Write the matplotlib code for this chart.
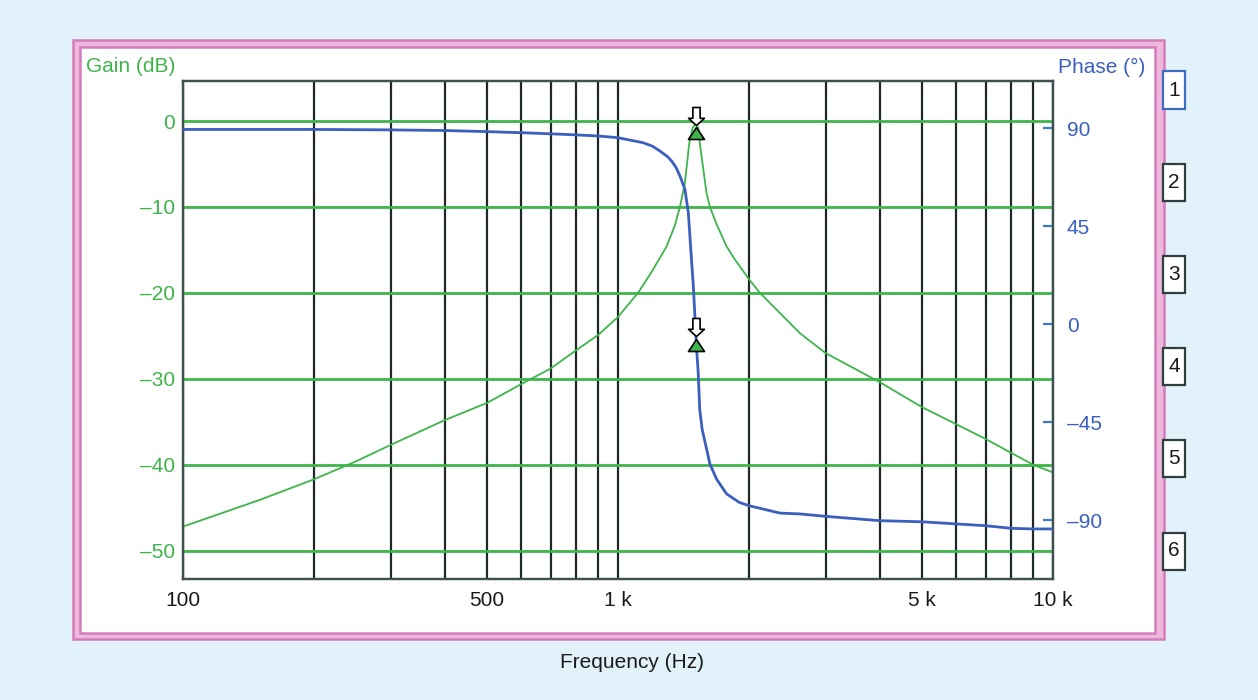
import matplotlib
matplotlib.use('Agg')
import matplotlib.pyplot as plt
from matplotlib.patches import Rectangle
from matplotlib.path import Path
from matplotlib.ticker import FixedLocator, LogLocator, NullFormatter
import matplotlib.transforms as mtransforms
import numpy as np

plt.rcParams['font.family'] = ['Liberation Sans', 'DejaVu Sans']

# ---------------- data ----------------
gain_freq = [100, 150, 200, 250, 300, 400, 500, 600, 700, 800, 900,
             1000, 1050, 1112, 1200, 1293, 1350, 1388, 1425, 1458, 1485, 1510, 1530,
             1542, 1598, 1627, 1685, 1777, 1850, 2000, 2120, 2620, 3000, 4000, 5000,
             6000, 7000, 8000, 9000, 10000]
gain_db = [-47.2, -44.1, -41.7, -39.6, -37.7, -34.8, -32.8, -30.6, -28.8, -26.7, -24.9,
           -22.8, -21.5, -20.0, -17.4, -14.6, -12.2, -10.0, -7.2, -2.6, -0.8, -0.3, -0.8,
           -2.6, -8.4, -10.0, -12.0, -14.6, -16.0, -18.4, -20.0, -24.7, -27.0, -30.4, -33.3,
           -35.3, -37.0, -38.6, -40.0, -40.9]

phase_freq = [100, 200, 300, 400, 500, 600, 700, 800, 900, 1000,
              1142, 1200, 1248, 1300, 1328, 1360, 1388, 1425, 1451, 1470, 1490, 1509, 1518,
              1529, 1541, 1561, 1627, 1685, 1777, 1900, 2000, 2355, 2620,
              3000, 4000, 5000, 6000, 7000, 8000, 9000, 10000]
phase_deg = [89.5, 89.5, 89.3, 89.0, 88.5, 88.0, 87.5, 87.0, 86.5, 85.7,
             83.4, 81.8, 79.6, 77.0, 75.0, 72.0, 68.1, 62.0, 51.3, 34.4, 17.6, -3.8, -13.0,
             -22.2, -39.0, -48.2, -64.3, -71.2, -78.0, -81.9, -83.4, -86.8, -87.2,
             -88.3, -90.3, -90.8, -91.8, -92.6, -93.8, -94.1, -94.1]

marker_freq = [1510]
marker_gain = [-1.4]
marker_phase = [-9.6]

x_tick_vals = [100, 500, 1000, 5000, 10000]
x_tick_labels = ['100', '500', '1 k', '5 k', '10 k']
gain_ticks = [0, -10, -20, -30, -40, -50]
gain_tick_labels = ['0', '\u201310', '\u201320', '\u201330', '\u201340', '\u201350']
phase_ticks = [90, 45, 0, -45, -90]
phase_tick_labels = ['90', '45', '0', '\u201345', '\u201390']
box_labels = ['1', '2', '3', '4', '5', '6']

# ---------------- style ----------------
GREEN = '#3DB54A'
BLUE = '#3B5FBF'
PINK_D = '#D47CBB'
PINK_L = '#EDB8DC'
BG = '#E1F2FA'
GRIDK = '#1E2828'
FS = 15

W, H = 1258, 700
fig = plt.figure(figsize=(W / 100, H / 100), dpi=100)
fig.patch.set_facecolor(BG)


def fx(x):
    return x / W


def fy(y):
    return 1 - y / H


# frame
fig.add_artist(Rectangle((fx(73), fy(639)), fx(1164) - fx(73), fy(40) - fy(639),
                         transform=fig.transFigure, facecolor=PINK_L,
                         edgecolor=PINK_D, lw=1.8, zorder=0))
fig.add_artist(Rectangle((fx(80), fy(633)), fx(1155) - fx(80), fy(47) - fy(633),
                         transform=fig.transFigure, facecolor='white',
                         edgecolor=PINK_D, lw=1.8, zorder=0))

# main axes
ax = fig.add_axes([fx(183), fy(579), fx(1053) - fx(183), fy(80.7) - fy(579)])
ax.set_facecolor('white')
ax.set_xscale('log')
ax.set_xlim(100, 10000)
ax.set_ylim(-53.3, 4.7)
ax.xaxis.set_major_locator(FixedLocator(x_tick_vals))
ax.xaxis.set_minor_locator(LogLocator(base=10, subs=np.arange(1, 10)))
ax.xaxis.set_minor_formatter(NullFormatter())
ax.set_xticklabels(x_tick_labels)
ax.set_yticks(gain_ticks)
ax.set_yticklabels(gain_tick_labels)
ax.grid(axis='x', which='both', color=GRIDK, lw=1.6, zorder=1)
ax.grid(axis='y', which='major', color=GREEN, lw=2.0, zorder=1)
ax.set_axisbelow(True)
ax.tick_params(axis='x', which='both', length=0, pad=9, labelsize=FS, labelcolor='#1a1a1a')
ax.tick_params(axis='y', which='both', length=0, pad=6, labelsize=FS, labelcolor=GREEN)
for s in ax.spines.values():
    s.set_color('#405050')
    s.set_linewidth(1.6)

ax.plot(gain_freq, gain_db, color=GREEN, lw=1.3, zorder=3)

# phase axes
ax2 = ax.twinx()
ax2.set_ylim(-117.1, 111.9)
ax2.set_yticks(phase_ticks)
ax2.set_yticklabels(phase_tick_labels)
ax2.tick_params(axis='y', direction='in', length=7, width=1.6, color='#3C7BD0',
                pad=10, labelsize=FS, labelcolor=BLUE)
for s in ax2.spines.values():
    s.set_color('#405050')
    s.set_linewidth(1.6)
ax2.plot(phase_freq, phase_deg, color=BLUE, lw=2.0, zorder=3)

# markers
tri = Path([(0, 0.375), (-0.5, -0.375), (0.5, -0.375), (0, 0.375)],
           [Path.MOVETO, Path.LINETO, Path.LINETO, Path.CLOSEPOLY])
arrow = Path([(-0.2, 0.5), (0.2, 0.5), (0.2, -0.1), (0.44, -0.1), (0, -0.5),
              (-0.44, -0.1), (-0.2, -0.1), (-0.2, 0.5)],
             [Path.MOVETO] + [Path.LINETO] * 6 + [Path.CLOSEPOLY])

for a, vals, off in ((ax, marker_gain, 12.2), (ax2, marker_phase, 13.0)):
    a.plot(marker_freq, vals, linestyle='none', marker=tri, markersize=11.5,
           markerfacecolor=GREEN, markeredgecolor='black', markeredgewidth=1.2, zorder=6)
    tr = mtransforms.offset_copy(a.transData, fig=fig, x=0, y=off, units='points')
    a.plot(marker_freq, vals, linestyle='none', marker=arrow, markersize=13,
           markerfacecolor='white', markeredgecolor='black', markeredgewidth=1.2,
           transform=tr, zorder=6)

# axis titles
fig.text(fx(86), fy(67), 'Gain (dB)', color=GREEN, fontsize=FS, ha='left', va='center')
fig.text(fx(1145), fy(67), 'Phase (\u00b0)', color=BLUE, fontsize=FS, ha='right', va='center')
fig.text(fx(632), fy(663), 'Frequency (Hz)', color='#1a1a1a', fontsize=FS, ha='center', va='center')

# right-side numbered boxes
for i, lab in enumerate(box_labels):
    cy = 90 + i * 92.2
    ec = '#3D6CC0' if i == 0 else '#2F3F3F'
    fig.add_artist(Rectangle((fx(1163), fy(cy + 18.5)), fx(1185) - fx(1163), fy(cy - 18.5) - fy(cy + 18.5),
                             transform=fig.transFigure, facecolor='white', edgecolor=ec,
                             lw=1.6, zorder=5))
    fig.text(fx(1174), fy(cy), lab, color='#1a1a1a', fontsize=FS, ha='center', va='center', zorder=6)

fig.savefig('out.png', dpi=100, facecolor=BG)
